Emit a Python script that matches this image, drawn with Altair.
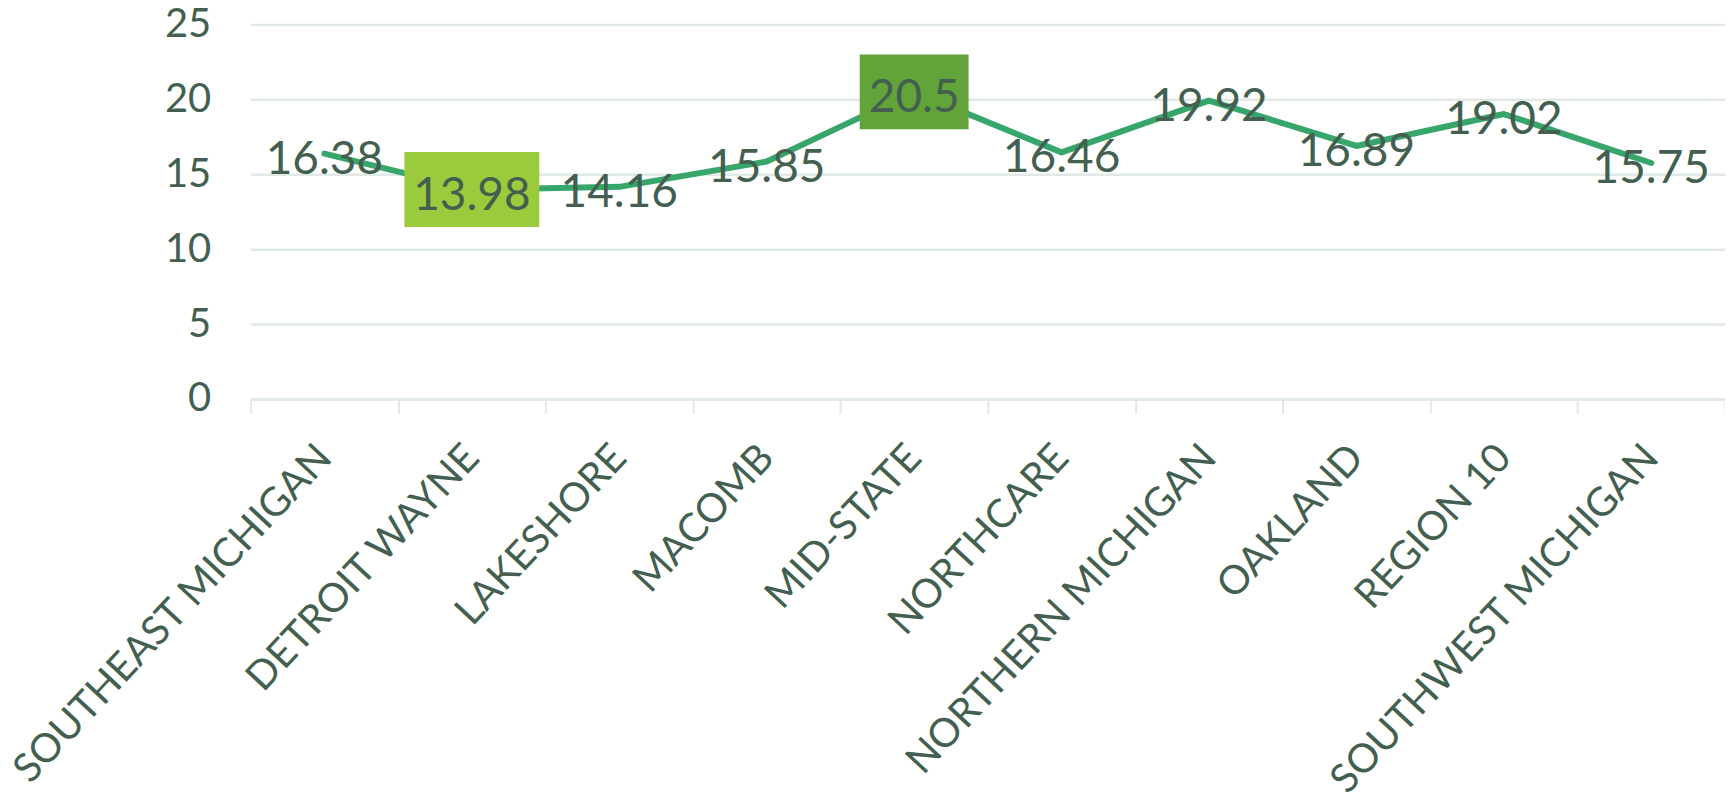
import altair as alt
import pandas as pd

# ---- data ----
categories = [
    "SOUTHEAST MICHIGAN", "DETROIT WAYNE", "LAKESHORE", "MACOMB", "MID-STATE",
    "NORTHCARE", "NORTHERN MICHIGAN", "OAKLAND", "REGION 10", "SOUTHWEST MICHIGAN",
]
values = [16.38, 13.98, 14.16, 15.85, 20.5, 16.46, 19.92, 16.89, 19.02, 15.75]
y_ticks = [0, 5, 10, 15, 20, 25]

# ---- styles ----
FONT = "Lato"
TEXT = "#435F50"
LINE = "#36A66B"
GRID = "#E1E9E6"
# highlight boxes: (fill, width px, height px)
BOX = {"min": ("#9BCB3C", 135, 75), "max": ("#62A33A", 109, 75)}

PLOT_W, PLOT_H = 1476, 375
n = len(categories)
band = PLOT_W / n

vmin, vmax = min(values), max(values)
rows = []
for i, (c, v) in enumerate(zip(categories, values)):
    kind = "min" if v == vmin else ("max" if v == vmax else None)
    fill = path = size = None
    if kind:
        f, w, h = BOX[kind]
        r = h / w
        fill = f
        path = f"M-1,{-r}L1,{-r}L1,{r}L-1,{r}Z"
        size = w * w
    rows.append({"name": c, "value": v, "pos": i + 0.5, "label": f"{v:g}",
                 "fill": fill, "path": path, "sz": size})
df = pd.DataFrame(rows)

names_js = "[" + ",".join("'" + c + "'" for c in categories) + "]"
label_expr = f"datum.value < {n} ? {names_js}[datum.value] : ''"

x_enc = alt.X(
    "pos:Q",
    scale=alt.Scale(domain=[0, n], nice=False, zero=False),
    axis=alt.Axis(
        values=list(range(n + 1)), labelExpr=label_expr, title=None,
        labelAngle=-47, labelAlign="right", labelBaseline="middle",
        labelOffset=band / 2, labelPadding=38, labelOverlap=False,
        labelBound=False, labelFlush=False, labelLimit=2000,
        labelFont=FONT, labelFontSize=40, labelColor=TEXT,
        tickSize=14, tickColor=GRID, tickWidth=2,
        domainColor=GRID, domainWidth=2.5, grid=False,
    ),
)
y_enc = alt.Y(
    "value:Q",
    scale=alt.Scale(domain=[0, 25], nice=False),
    axis=alt.Axis(
        values=y_ticks, title=None, grid=True, gridColor=GRID, gridWidth=2.5,
        domain=False, ticks=False, tickSize=0, labelPadding=40,
        labelFont=FONT, labelFontSize=40, labelColor=TEXT,
    ),
)

base = alt.Chart(df).encode(x=x_enc, y=y_enc)

line = base.mark_line(color=LINE, strokeWidth=6, strokeCap="round", strokeJoin="round")

boxes = base.transform_filter("datum.fill != null").mark_point(
    filled=True, opacity=1, strokeWidth=0
).encode(
    shape=alt.Shape("path:N", scale=None),
    size=alt.Size("sz:Q", scale=None),
    fill=alt.Fill("fill:N", scale=None),
)

labels = base.mark_text(
    font=FONT, fontSize=46, color=TEXT, align="center", baseline="middle", dy=6
).encode(text="label:N")

chart = (
    alt.layer(line, boxes, labels)
    .properties(
        width=PLOT_W, height=PLOT_H,
        autosize=alt.AutoSizeParams(type="none"),
        padding={"left": 243, "top": 16, "right": 0, "bottom": 396},
    )
    .configure_view(stroke=None)
)

chart.save("out.html", embed_options={"renderer": "svg", "actions": False})
